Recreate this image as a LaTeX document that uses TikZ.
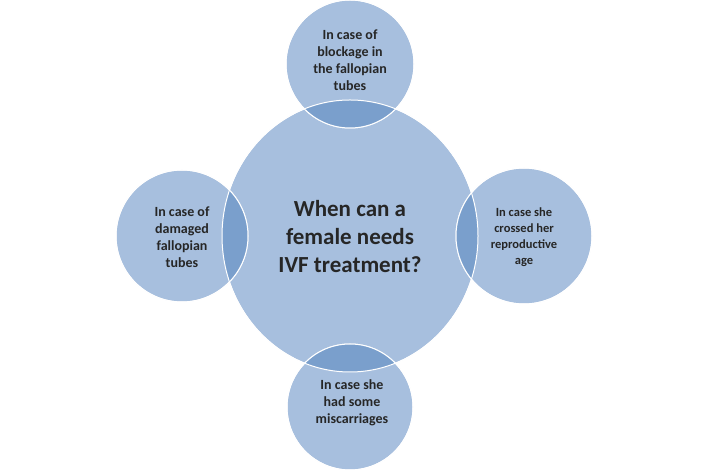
\documentclass[tikz,border=0pt]{standalone}
\usepackage{fontspec}
\setmainfont{Carlito}
\begin{document}
\begin{tikzpicture}[x=1pt,y=1pt,
  lt/.style={fill=lb,draw=white,line width=1pt},
  sm/.style={align=center,font=\bfseries\fontsize{14}{17}\selectfont,text=black!85}]
\definecolor{lb}{HTML}{A7BFDE}
\definecolor{db}{HTML}{7A9FCC}
\useasboundingbox (0,0) rectangle (706,473);
\fill[white] (0,0) rectangle (706,473);
\coordinate (c) at (350,237);
\coordinate (t) at (350,409);
\coordinate (l) at (182,237);
\coordinate (r) at (524,237);
\coordinate (b) at (350,66);
\draw[lt] (c) ellipse (128 and 136);
\foreach \p/\rr in {t/64,l/66,r/68,b/63} \draw[lt] (\p) circle (\rr);
\begin{scope}
\clip (c) ellipse (128 and 136);
\foreach \p/\rr in {t/64,l/66,r/68,b/63} \fill[db] (\p) circle (\rr);
\end{scope}
\draw[white,line width=1pt] (c) ellipse (128 and 136);
\foreach \p/\rr in {t/64,l/66,r/68,b/63} \draw[white,line width=1pt] (\p) circle (\rr);
\node[align=center,font=\bfseries\fontsize{23}{28}\selectfont,text=black!85] (ct) at (350,236) {When can a\\female needs\\IVF treatment?};
\node[sm] (tt) at (350,413) {In case of\\blockage in\\the fallopian\\tubes};
\node[sm] (lt) at (182,236) {In case of\\damaged\\fallopian\\tubes};
\node[sm,font=\bfseries\fontsize{12.5}{16}\selectfont] (rt) at (524,236) {In case she\\crossed her\\reproductive\\age};
\node[sm] (bt) at (352,70) {In case she\\had some\\miscarriages};
\end{tikzpicture}
\end{document}
